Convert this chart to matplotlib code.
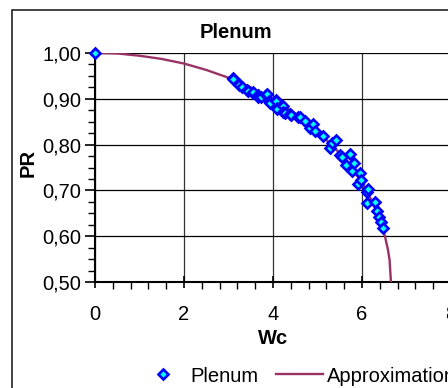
import matplotlib
matplotlib.use("Agg")
import matplotlib.pyplot as plt
from matplotlib.lines import Line2D
from matplotlib.patches import Rectangle
from matplotlib.ticker import MultipleLocator, FuncFormatter

plt.rcParams['font.family'] = ['Liberation Sans', 'DejaVu Sans']

# Measured points (Plenum)
wc_points = [0.0, 3.09, 3.11, 3.24, 3.24, 3.30, 3.41, 3.43, 3.56, 3.56, 3.66, 3.67, 3.73,
             3.84, 3.86, 3.90, 3.93, 4.06, 4.07, 4.08, 4.10, 4.23, 4.23, 4.27, 4.38,
             4.40, 4.57, 4.60, 4.72, 4.83, 4.91, 4.94, 5.12, 5.28, 5.33, 5.41, 5.51,
             5.56, 5.63, 5.73, 5.78, 5.81, 5.90, 5.96, 5.97, 6.12, 6.12, 6.14, 6.30,
             6.34, 6.38, 6.42, 6.48]
pr_points = [1.000, 0.945, 0.943, 0.932, 0.930, 0.925, 0.919, 0.916, 0.913, 0.914, 0.908,
             0.905, 0.903, 0.908, 0.910, 0.895, 0.891, 0.897, 0.896, 0.879, 0.877, 0.884,
             0.872, 0.870, 0.866, 0.865, 0.860, 0.860, 0.852, 0.836, 0.845, 0.830, 0.819,
             0.793, 0.804, 0.810, 0.777, 0.774, 0.755, 0.779, 0.742, 0.759, 0.713, 0.737,
             0.723, 0.697, 0.672, 0.702, 0.675, 0.656, 0.643, 0.632, 0.617]

# Approximation curve
wc_curve = [0.0, 0.5, 1.0, 1.5, 2.0, 2.5, 3.0, 3.5, 4.0, 4.5, 5.0, 5.5, 5.8, 6.0,
            6.2, 6.35, 6.45, 6.52, 6.58, 6.62, 6.65]
pr_curve = [1.000, 0.999, 0.994, 0.987, 0.977, 0.963, 0.946, 0.925, 0.899, 0.868,
            0.830, 0.781, 0.745, 0.716, 0.681, 0.649, 0.622, 0.598, 0.572, 0.548, 0.500]

W, H = 448, 388
FS = 14.5
fig = plt.figure(figsize=(W / 100, H / 100), dpi=100)

# outer chart border
fig.patches.append(Rectangle((12 / W, -0.1), 1.2, 1 - 10 / H + 0.1,
                             transform=fig.transFigure, fill=False,
                             edgecolor='#222222', linewidth=1.2))

ax = fig.add_axes([95 / W, 1 - 282 / H, (451 - 95) / W, (282 - 53) / H])
ax.set_xlim(0, 8)
ax.set_ylim(0.5, 1.0)

ax.grid(True, which='major', color='black', linewidth=0.9)
ax.xaxis.grid(True, which='major', color='#333333', linewidth=0.9)
ax.set_axisbelow(True)

ax.plot(wc_curve, pr_curve, color='#993366', linewidth=1.7, zorder=3,
        label='Approximation')
ax.plot(wc_points, pr_points, linestyle='none', marker='D', markersize=5.4,
        markerfacecolor='#00FFFF', markeredgecolor='#0000FF', markeredgewidth=1.9,
        zorder=4, clip_on=False, label='Plenum')

for s in ['top', 'right']:
    ax.spines[s].set_visible(False)
for s in ['left', 'bottom']:
    ax.spines[s].set_linewidth(1.5)
    ax.spines[s].set_color('black')

ax.xaxis.set_major_locator(MultipleLocator(2))
ax.xaxis.set_minor_locator(MultipleLocator(0.4))
ax.yaxis.set_major_locator(MultipleLocator(0.1))
ax.yaxis.set_minor_locator(MultipleLocator(0.025))
ax.yaxis.set_major_formatter(FuncFormatter(lambda v, p: f"{v:.2f}".replace('.', ',')))
ax.xaxis.set_major_formatter(FuncFormatter(lambda v, p: f"{v:.0f}"))

ax.tick_params(axis='x', which='major', direction='inout', length=9, width=1.2,
               labelsize=FS, pad=12)
ax.tick_params(axis='x', which='minor', direction='out', length=5, width=1)
ax.tick_params(axis='y', which='major', direction='out', length=7, width=1.2,
               labelsize=FS, pad=3)
ax.tick_params(axis='y', which='minor', direction='out', length=5, width=1)

fig.text(273 / W, 1 - 338 / H, 'Wc', fontsize=FS, fontweight='bold',
         ha='center', va='center')
fig.text(28 / W, 1 - 163 / H, 'PR', fontsize=FS, fontweight='bold',
         rotation=90, ha='center', va='center')
fig.text(236 / W, 1 - 33 / H, 'Plenum', fontsize=FS, fontweight='bold',
         ha='center', va='center')

# legend
handles = [Line2D([], [], linestyle='none', marker='D', markersize=5.4,
                  markerfacecolor='#00FFFF', markeredgecolor='#0000FF',
                  markeredgewidth=1.9),
           Line2D([], [], color='#993366', linewidth=1.7)]
fig.legend(handles, ['Plenum', 'Approximation'], loc='center left',
           bbox_to_anchor=(139.5 / W, 1 - 376 / H), ncol=2, frameon=False,
           fontsize=FS, handlelength=2.35, handletextpad=0.2, columnspacing=0.85,
           borderpad=0, borderaxespad=0)

fig.savefig('out.png', dpi=100)
